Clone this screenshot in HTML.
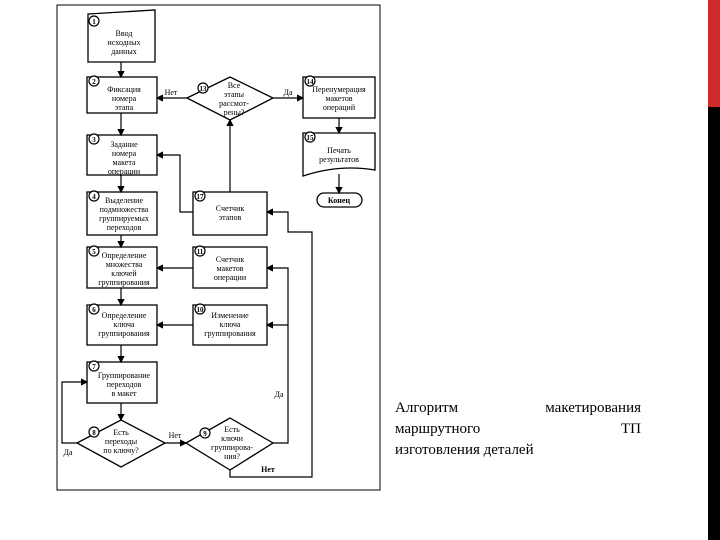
<!DOCTYPE html>
<html><head><meta charset="utf-8"><style>
body{margin:0;width:720px;height:540px;background:#fff;position:relative;overflow:hidden}
svg{position:absolute;left:0;top:0}
.cap{position:absolute;left:395px;top:398px;width:246px;font:15px/21px "Liberation Serif",serif;text-align:justify;text-align-last:left;color:#000}
.cap span{display:block;text-align-last:justify}
</style></head><body>
<svg width="720" height="540" viewBox="0 0 720 540" font-family="Liberation Serif, serif" font-size="8" text-anchor="middle">
<defs><marker id="a" markerWidth="6" markerHeight="6" refX="5" refY="3" orient="auto"><path d="M0,0 L6,3 L0,6z" fill="#000"/></marker></defs>
<rect x="708" y="0" width="12" height="107" fill="#d22a2a"/>
<rect x="708" y="107" width="12" height="433" fill="#000"/>
<rect x="57" y="5" width="323" height="485" fill="none" stroke="#000" stroke-width="1"/>
<g fill="none" stroke="#000" stroke-width="1.3">
<path d="M88,14 L155,10 L155,62 L88,62Z"/>
<rect x="87" y="77" width="70" height="36"/>
<path d="M187,98 L230,77 L273,98 L230,120Z"/>
<rect x="303" y="77" width="72" height="41"/>
<path d="M303,133 H375 V170 Q339,164 303,176Z"/>
<rect x="317" y="193" width="45" height="14" rx="7"/>
<rect x="87" y="135" width="70" height="40"/>
<rect x="87" y="192" width="70" height="43"/>
<rect x="193" y="192" width="74" height="43"/>
<rect x="87" y="247" width="70" height="41"/>
<rect x="193" y="247" width="74" height="41"/>
<rect x="87" y="305" width="70" height="40"/>
<rect x="193" y="305" width="74" height="40"/>
<rect x="87" y="362" width="70" height="41"/>
<path d="M77,443 L121,420 L165,443 L121,467Z"/>
<path d="M186,443 L230,418 L273,443 L230,470Z"/>
</g>
<g fill="none" stroke="#000" stroke-width="1.2">
<path d="M121,62 V77" marker-end="url(#a)"/>
<path d="M121,113 V135" marker-end="url(#a)"/>
<path d="M121,175 V192" marker-end="url(#a)"/>
<path d="M121,235 V247" marker-end="url(#a)"/>
<path d="M121,288 V305" marker-end="url(#a)"/>
<path d="M121,345 V362" marker-end="url(#a)"/>
<path d="M121,403 V420" marker-end="url(#a)"/>
<path d="M187,98 H157" marker-end="url(#a)"/>
<path d="M273,98 H303" marker-end="url(#a)"/>
<path d="M339,118 V133" marker-end="url(#a)"/>
<path d="M339,174 V193" marker-end="url(#a)"/>
<path d="M230,192 V120" marker-end="url(#a)"/>
<path d="M193,212 H180 V155 H157" marker-end="url(#a)"/>
<path d="M193,268 H157" marker-end="url(#a)"/>
<path d="M193,325 H157" marker-end="url(#a)"/>
<path d="M273,443 H288 V268 H267" marker-end="url(#a)"/>
<path d="M288,325 H267" marker-end="url(#a)"/>
<path d="M77,443 H62 V382 H87" marker-end="url(#a)"/>
<path d="M165,443 H186" marker-end="url(#a)"/>
<path d="M230,470 V477 H312 V232 H288 V212 H267" marker-end="url(#a)"/>
</g>
<g fill="#fff" stroke="#000" stroke-width="1.2">
<circle cx="94" cy="21" r="5"/><circle cx="94" cy="81" r="5"/><circle cx="94" cy="139" r="5"/><circle cx="94" cy="196" r="5"/>
<circle cx="94" cy="251" r="5"/><circle cx="94" cy="309" r="5"/><circle cx="94" cy="366" r="5"/><circle cx="94" cy="432" r="5"/>
<circle cx="200" cy="196" r="5"/><circle cx="200" cy="251" r="5"/><circle cx="200" cy="309" r="5"/><circle cx="203" cy="88" r="5"/>
<circle cx="205" cy="433" r="5"/><circle cx="310" cy="81" r="5"/><circle cx="310" cy="137" r="5"/>
</g>
<g font-size="7" font-weight="bold">
<text x="94" y="24">1</text><text x="94" y="84">2</text><text x="94" y="142">3</text><text x="94" y="199">4</text>
<text x="94" y="254">5</text><text x="94" y="312">6</text><text x="94" y="369">7</text><text x="94" y="435">8</text>
<text x="200" y="199">17</text><text x="200" y="254">11</text><text x="200" y="312">10</text><text x="203" y="91">13</text>
<text x="205" y="436">9</text><text x="310" y="84">14</text><text x="310" y="140">15</text>
</g>
<text x="124" y="36">Ввод</text><text x="124" y="45">исходных</text><text x="124" y="54">данных</text>
<text x="124" y="92">Фиксация</text><text x="124" y="101">номера</text><text x="124" y="110">этапа</text>
<text x="234" y="88">Все</text><text x="234" y="97">этапы</text><text x="234" y="106">рассмот-</text><text x="234" y="115">рены?</text>
<text x="339" y="92">Перенумерация</text><text x="339" y="101">макетов</text><text x="339" y="110">операций</text>
<text x="339" y="153">Печать</text><text x="339" y="162">результатов</text>
<text x="339" y="203" font-weight="bold">Конец</text>
<text x="124" y="147">Задание</text><text x="124" y="156">номера</text><text x="124" y="165">макета</text><text x="124" y="174">операции</text>
<text x="124" y="203">Выделение</text><text x="124" y="212">подмножества</text><text x="124" y="221">группируемых</text><text x="124" y="230">переходов</text>
<text x="230" y="211">Счетчик</text><text x="230" y="220">этапов</text>
<text x="124" y="258">Определение</text><text x="124" y="267">множества</text><text x="124" y="276">ключей</text><text x="124" y="285">группирования</text>
<text x="230" y="262">Счетчик</text><text x="230" y="271">макетов</text><text x="230" y="280">операции</text>
<text x="124" y="318">Определение</text><text x="124" y="327">ключа</text><text x="124" y="336">группирования</text>
<text x="230" y="318">Изменение</text><text x="230" y="327">ключа</text><text x="230" y="336">группирования</text>
<text x="124" y="378">Группирование</text><text x="124" y="387">переходов</text><text x="124" y="396">в макет</text>
<text x="121" y="435">Есть</text><text x="121" y="444">переходы</text><text x="121" y="453">по ключу?</text>
<text x="232" y="432">Есть</text><text x="232" y="441">ключи</text><text x="232" y="450">группирова-</text><text x="232" y="459">ния?</text>
<text x="171" y="95">Нет</text><text x="288" y="95">Да</text>
<text x="175" y="438">Нет</text><text x="68" y="455">Да</text>
<text x="279" y="397">Да</text><text x="268" y="472" font-weight="bold">Нет</text>
</svg>
<div class="cap"><span>Алгоритм макетирования</span><span>маршрутного ТП</span>изготовления деталей</div>
</body></html>
